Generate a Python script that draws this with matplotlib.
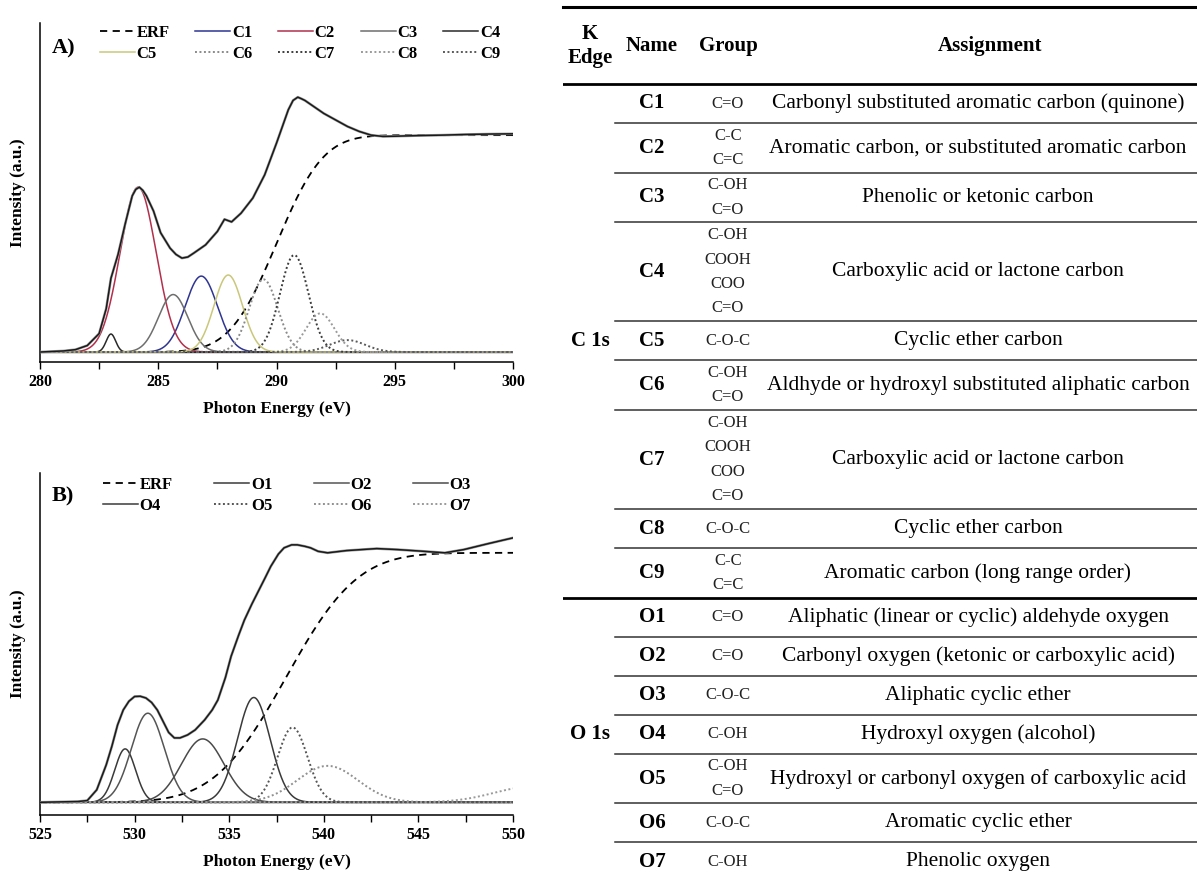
import math
import numpy as np
import matplotlib.pyplot as plt
from matplotlib.ticker import MultipleLocator

plt.rcParams['font.family'] = ['Liberation Serif', 'DejaVu Serif']

W, H = 1197, 874

# ---- C K-edge: measured spectrum ----
c_energy = [280.0, 281.0, 281.5, 282.0, 282.5, 282.8, 283.0, 283.3, 283.6, 283.9,
            284.05, 284.2, 284.35, 284.5, 284.8, 285.1, 285.5, 285.75, 286.0, 286.25,
            286.5, 287.0, 287.5, 287.8, 288.1, 288.5, 289.0, 289.5, 290.0, 290.5,
            290.7, 290.9, 291.05, 291.2, 291.6, 292.0, 292.5, 293.0, 293.5, 294.0,
            294.5, 295.0, 296.0, 297.0, 298.0, 299.0, 300.0]
c_spectrum = [0.0, 0.005, 0.011, 0.03, 0.085, 0.2, 0.34, 0.45, 0.59, 0.72,
              0.75, 0.76, 0.745, 0.72, 0.65, 0.55, 0.479, 0.45, 0.433, 0.438,
              0.456, 0.494, 0.556, 0.612, 0.60, 0.64, 0.71, 0.817, 0.963, 1.117,
              1.16, 1.175, 1.168, 1.16, 1.13, 1.10, 1.07, 1.04, 1.017, 1.0,
              0.994, 0.995, 0.998, 1.0, 1.003, 1.005, 1.006]

# gaussian components: centre (eV), height, sigma (eV)
c_names = ['C1', 'C2', 'C3', 'C4', 'C5', 'C6', 'C7', 'C8', 'C9']
c_centres = [286.82, 284.15, 285.63, 283.0, 287.96, 289.45, 290.75, 291.85, 293.0]
c_heights = [0.35, 0.76, 0.265, 0.083, 0.355, 0.335, 0.447, 0.178, 0.055]
c_sigmas = [0.68, 0.76, 0.62, 0.2, 0.6, 0.6, 0.6, 0.6, 0.75]
c_step = (290.0, 2.2)  # ERF position, width

# ---- O K-edge ----
o_energy = [525.0, 527.0, 527.5, 528.0, 528.5, 528.8, 529.1, 529.4, 529.7, 530.0,
            530.3, 530.6, 530.9, 531.2, 531.5, 531.8, 532.1, 532.4, 532.8, 533.2,
            533.7, 534.1, 534.4, 534.8, 535.1, 535.5, 535.8, 536.2, 536.5, 536.9,
            537.2, 537.6, 537.9, 538.3, 538.6, 539.0, 539.3, 539.7, 540.2, 541.2,
            542.8, 543.9, 545.1, 546.4, 547.4, 548.7, 550.0]
o_spectrum = [0.0, 0.003, 0.007, 0.05, 0.15, 0.225, 0.31, 0.37, 0.405, 0.424,
              0.425, 0.418, 0.40, 0.37, 0.325, 0.28, 0.258, 0.258, 0.27, 0.29,
              0.33, 0.37, 0.41, 0.50, 0.585, 0.67, 0.73, 0.795, 0.84, 0.90,
              0.946, 0.995, 1.02, 1.032, 1.032, 1.026, 1.02, 1.006, 1.0, 1.009,
              1.017, 1.013, 1.007, 1.0, 1.013, 1.037, 1.06]

o_names = ['O1', 'O2', 'O3', 'O4', 'O5', 'O6', 'O7']
o_centres = [529.5, 530.7, 533.6, 536.3, 538.35, 540.2, 551.0]
o_heights = [0.214, 0.357, 0.254, 0.42, 0.30, 0.146, 0.0625]
o_sigmas = [0.55, 0.87, 1.12, 0.86, 0.79, 1.6, 2.0]
o_step = (538.0, 4.2)

c_colors = ['#2e3592', '#b3304c', '#6e6e6e', '#2a2a2a', '#c9c77a',
            '#8a8a8a', '#3c3c3c', '#9a9a9a', '#5a5a5a']
c_dotted = [False] * 5 + [True] * 4
o_colors = ['#3a3a3a', '#555555', '#4a4a4a', '#3a3a3a', '#555555', '#909090', '#9a9a9a']
o_dotted = [False] * 4 + [True] * 3

# ---- table ----
c_groups = [['C=O'], ['C-C', 'C=C'], ['C-OH', 'C=O'], ['C-OH', 'COOH', 'COO', 'C=O'],
            ['C-O-C'], ['C-OH', 'C=O'], ['C-OH', 'COOH', 'COO', 'C=O'], ['C-O-C'],
            ['C-C', 'C=C']]
c_assign = ['Carbonyl substituted aromatic carbon (quinone)',
            'Aromatic carbon, or substituted aromatic carbon',
            'Phenolic or ketonic carbon',
            'Carboxylic acid or lactone carbon',
            'Cyclic ether carbon',
            'Aldhyde or hydroxyl substituted aliphatic carbon',
            'Carboxylic acid or lactone carbon',
            'Cyclic ether carbon',
            'Aromatic carbon (long range order)']
o_groups = [['C=O'], ['C=O'], ['C-O-C'], ['C-OH'], ['C-OH', 'C=O'], ['C-O-C'], ['C-OH']]
o_assign = ['Aliphatic (linear or cyclic) aldehyde oxygen',
            'Carbonyl oxygen (ketonic or carboxylic acid)',
            'Aliphatic cyclic ether',
            'Hydroxyl oxygen (alcohol)',
            'Hydroxyl or carbonyl oxygen of carboxylic acid',
            'Aromatic cyclic ether',
            'Phenolic oxygen']

erf = np.vectorize(math.erf)


def gauss(x, c, h, s):
    return h * np.exp(-0.5 * ((x - c) / s) ** 2)


def draw_panel(ax, energy, spectrum, names, centres, heights, sigmas, colors, dotted,
               step, xlim, ylim, legend_order, ncol, legend_box):
    x = np.linspace(xlim[0], xlim[1], 1200)
    ax.axhline(0, color='#333333', lw=1.0, zorder=1)
    handles = {}
    edge = 0.5 * (1 + erf((x - step[0]) / step[1]))
    l, = ax.plot(x, edge, color='black', lw=1.3, ls=(0, (4, 3)))
    handles['ERF'] = l
    for n, c, h, s, col, dot in zip(names, centres, heights, sigmas, colors, dotted):
        ls = (0, (1, 1.3)) if dot else '-'
        l, = ax.plot(x, gauss(x, c, h, s), color=col, lw=1.4 if dot else 1.1, ls=ls)
        handles[n] = l
    ax.plot(energy, spectrum, color='#a0a0a0', lw=1.9, zorder=4)
    ax.plot(energy, spectrum, color='#1a1a1a', lw=1.1, zorder=5)

    ax.set_xlim(*xlim)
    ax.set_ylim(*ylim)
    ax.set_yticks([])
    ax.xaxis.set_major_locator(MultipleLocator(5))
    ax.xaxis.set_minor_locator(MultipleLocator(2.5))
    ax.tick_params(axis='x', which='both', direction='out', length=5, width=1.0)
    ax.tick_params(axis='x', labelsize=11.5)
    for t in ax.get_xticklabels():
        t.set_fontweight('bold')
    for sp in ['top', 'right']:
        ax.spines[sp].set_visible(False)
    for sp in ['left', 'bottom']:
        ax.spines[sp].set_linewidth(1.1)
    ax.set_xlabel('Photon Energy (eV)', fontsize=12.5, fontweight='bold', labelpad=8)
    ax.set_ylabel('Intensity (a.u.)', fontsize=12.5, fontweight='bold', labelpad=10)

    ax.legend([handles[k] for k in legend_order], legend_order, ncol=ncol,
              loc='upper left', mode='expand', bbox_to_anchor=legend_box,
              bbox_transform=ax.figure.transFigure, frameon=False,
              handlelength=2.1, handletextpad=0.1, labelspacing=0.3,
              borderpad=0, borderaxespad=0,
              prop=dict(weight='bold', size=12))


fig = plt.figure(figsize=(W / 100, H / 100), dpi=100)

ax_c = fig.add_axes([40 / W, 1 - 362 / H, 473 / W, 339 / H])
draw_panel(ax_c, c_energy, c_spectrum, c_names, c_centres, c_heights, c_sigmas,
           c_colors, c_dotted, c_step, (280, 300), (-0.046, 1.517),
           ['ERF', 'C5', 'C1', 'C6', 'C2', 'C7', 'C3', 'C8', 'C4', 'C9'], 5,
           (100 / W, 1 - 68 / H, 400 / W, 43 / H))
fig.text(52 / W, 1 - 48 / H, 'A)', fontsize=16, fontweight='bold', va='center')

ax_o = fig.add_axes([40 / W, 1 - 815 / H, 473 / W, 342 / H])
draw_panel(ax_o, o_energy, o_spectrum, o_names, o_centres, o_heights, o_sigmas,
           o_colors, o_dotted, o_step, (525, 550), (-0.051, 1.32),
           ['ERF', 'O4', 'O1', 'O5', 'O2', 'O6', 'O3', 'O7'], 4,
           (103 / W, 1 - 520 / H, 368 / W, 43 / H))
fig.text(52 / W, 1 - 496 / H, 'B)', fontsize=16, fontweight='bold', va='center')

# ---- assignment table, drawn in pixel coordinates ----
tab = fig.add_axes([563 / W, 0, 1 - 563 / W, 1])
tab.set_xlim(563, W)
tab.set_ylim(H, 0)
tab.axis('off')

x_edge, x_name, x_group, x_assign = 590, 652, 728, 978
tab.plot([563, W], [7, 7], color='black', lw=2.2, clip_on=False)
tab.plot([563, W], [84, 84], color='black', lw=2.0)
tab.text(x_edge, 46, 'K\nEdge', ha='center', va='center', fontsize=15,
         fontweight='bold', linespacing=1.25)
for xx, t in [(x_name, 'Name'), (x_group, 'Group'), (x_assign + 12, 'Assignment')]:
    tab.text(xx, 46, t, ha='center', va='center', fontsize=15, fontweight='bold')

y = 84
for edge_label, names, groups, assigns in [('C 1s', c_names, c_groups, c_assign),
                                           ('O 1s', o_names, o_groups, o_assign)]:
    mids = []
    for i, (n, g, a) in enumerate(zip(names, groups, assigns)):
        h = max(39, 24.8 * len(g))
        mid = y + h / 2
        mids.append(mid)
        tab.text(x_name, mid, n, ha='center', va='center', fontsize=15, fontweight='bold')
        for k, gl in enumerate(g):
            tab.text(x_group, mid + (k - (len(g) - 1) / 2) * 24.3, gl, ha='center',
                     va='center', fontsize=12, color='#222222')
        tab.text(x_assign, mid, a, ha='center', va='center', fontsize=15.5)
        y += h
        if i < len(names) - 1:
            tab.plot([615, W], [y, y], color='#333333', lw=1.1)
    tab.text(x_edge, mids[len(mids) // 2], edge_label, ha='center', va='center',
             fontsize=15, fontweight='bold')
    if edge_label == 'C 1s':
        tab.plot([563, W], [y, y], color='black', lw=2.0)

fig.savefig('out.png', dpi=100)
